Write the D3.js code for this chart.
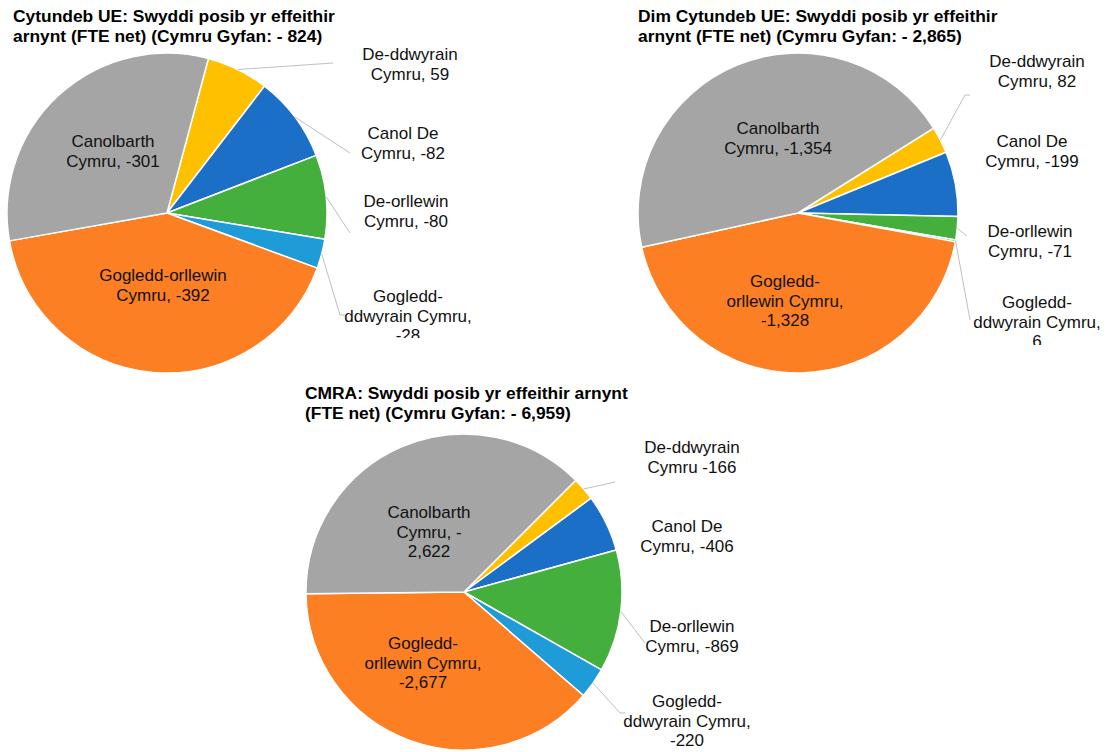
<!DOCTYPE html>
<html>
<head>
<meta charset="utf-8">
<script src="https://cdn.jsdelivr.net/npm/d3@7"></script>
<style>
  html, body { margin: 0; padding: 0; background: #fff; }
  svg { display: block; }
  text { font-family: "Liberation Sans", Arial, sans-serif; }
</style>
</head>
<body>
<svg id="chart" width="1107" height="752"></svg>
<script>
// ---------------- DATA ----------------
const regions = ["De-ddwyrain Cymru", "Canol De Cymru", "De-orllewin Cymru",
                 "Gogledd-ddwyrain Cymru", "Gogledd-orllewin Cymru", "Canolbarth Cymru"];
const colors = ["#FFC000", "#1B6FC7", "#44AF3C", "#1F9BD7", "#FD7F23", "#A5A5A5"];

const euDeal = [59, -82, -80, -28, -392, -301];
const noDeal = [82, -199, -71, 6, -1328, -1354];
const cmra   = [-166, -406, -869, -220, -2677, -2622];

const titlesLine1 = ["Cytundeb UE: Swyddi posib yr effeithir",
                     "Dim Cytundeb UE: Swyddi posib yr effeithir",
                     "CMRA: Swyddi posib yr effeithir arnynt"];
const titlesLine2 = ["arnynt (FTE net) (Cymru Gyfan: - 824)",
                     "arnynt (FTE net) (Cymru Gyfan: - 2,865)",
                     "(FTE net) (Cymru Gyfan: - 6,959)"];

// label line templates ({v} = formatted value, {s} = sign, {a} = absolute formatted)
const labelsEU = [["De-ddwyrain", "Cymru, {v}"], ["Canol De", "Cymru, {v}"], ["De-orllewin", "Cymru, {v}"],
                  ["Gogledd-", "ddwyrain Cymru,", "{v}"], ["Gogledd-orllewin", "Cymru, {v}"], ["Canolbarth", "Cymru, {v}"]];
const labelsNo = [["De-ddwyrain", "Cymru, {v}"], ["Canol De", "Cymru, {v}"], ["De-orllewin", "Cymru, {v}"],
                  ["Gogledd-", "ddwyrain Cymru,", "{v}"], ["Gogledd-", "orllewin Cymru,", "{v}"], ["Canolbarth", "Cymru, {v}"]];
const labelsCM = [["De-ddwyrain", "Cymru {v}"], ["Canol De", "Cymru, {v}"], ["De-orllewin", "Cymru, {v}"],
                  ["Gogledd-", "ddwyrain Cymru,", "{v}"], ["Gogledd-", "orllewin Cymru,", "{v}"], ["Canolbarth", "Cymru, {s}", "{a}"]];

// ---------------- LAYOUT ----------------
const charts = [
  { values: euDeal, labels: labelsEU, cx: 167, cy: 213, r: 160, start: 15,
    tx: 13, ty: 22, clipBottom: 338,
    pos: [[410, 60], [403, 139], [406, 207], [408, 302], [163, 281], [113, 147]],
    leaders: [[[333, 63]], [[350, 153]], [[350, 233]], [[340, 315], [345, 315]], null, null] },
  { values: noDeal, labels: labelsNo, cx: 798, cy: 213, r: 160, start: 58,
    tx: 638, ty: 22, clipBottom: 345,
    pos: [[1037, 67], [1032, 147], [1030, 237], [1037, 308], [785, 287], [778, 134]],
    leaders: [[[965, 95], [970, 95]], null, [[967, 236]], [[970, 320]], null, null] },
  { values: cmra, labels: labelsCM, cx: 464, cy: 592, r: 158, start: 45,
    tx: 305, ty: 399, clipBottom: 760,
    pos: [[692, 453], [687, 532], [692, 632], [687, 707], [423, 649], [429, 518]],
    leaders: [[[615, 482]], null, [[645, 643]], [[620, 713], [625, 713]], null, null] }
];

const locale = d3.formatLocale({ decimal: ".", thousands: ",", grouping: [3], currency: ["", ""], minus: "-" });
const fmt = locale.format(",");
const svg = d3.select("#chart");
const rad = d => d * Math.PI / 180;

charts.forEach((c, ci) => {
  const g = svg.append("g");

  // titles
  const t = g.append("text").attr("x", c.tx).attr("y", c.ty)
    .attr("font-size", 17.4).attr("font-weight", "bold").attr("fill", "#000");
  t.append("tspan").attr("x", c.tx).attr("y", c.ty).text(titlesLine1[ci]);
  t.append("tspan").attr("x", c.tx).attr("y", c.ty + 20).text(titlesLine2[ci]);

  const pie = d3.pie().value(d => Math.abs(d)).sort(null)
    .startAngle(rad(c.start)).endAngle(rad(c.start) + 2 * Math.PI);
  const arcs = pie(c.values);
  const arc = d3.arc().innerRadius(0).outerRadius(c.r);

  const pg = g.append("g").attr("transform", `translate(${c.cx},${c.cy})`);
  pg.selectAll("path").data(arcs).join("path")
    .attr("d", arc)
    .attr("fill", (d, i) => colors[i])
    .attr("stroke", "#fff").attr("stroke-width", 1.5).attr("stroke-linejoin", "round");

  // leader lines
  arcs.forEach((a, i) => {
    const pts = c.leaders[i];
    if (!pts) return;
    const mid = (a.startAngle + a.endAngle) / 2;
    const sx = c.cx + c.r * Math.sin(mid), sy = c.cy - c.r * Math.cos(mid);
    const line = d3.line();
    g.append("path").attr("d", line([[sx, sy], ...pts]))
      .attr("fill", "none").attr("stroke", "#BFBFBF").attr("stroke-width", 1);
  });

  // clip for outside labels
  const clipId = "clip" + ci;
  svg.append("clipPath").attr("id", clipId)
    .append("rect").attr("x", 0).attr("y", 0).attr("width", 1107).attr("height", c.clipBottom);

  // labels
  arcs.forEach((a, i) => {
    const v = c.values[i];
    const lines = c.labels[i].map(s => s.replace("{v}", fmt(v))
      .replace("{s}", v < 0 ? "-" : "").replace("{a}", fmt(Math.abs(v))));
    const [x, y] = c.pos[i];
    const tx = g.append("text").attr("text-anchor", "middle")
      .attr("font-size", 17).attr("fill", "#111");
    if (i < 4) tx.attr("clip-path", `url(#${clipId})`);
    lines.forEach((s, k) => tx.append("tspan").attr("x", x).attr("y", y + k * 19.5).text(s));
  });
});
</script>
</body>
</html>
